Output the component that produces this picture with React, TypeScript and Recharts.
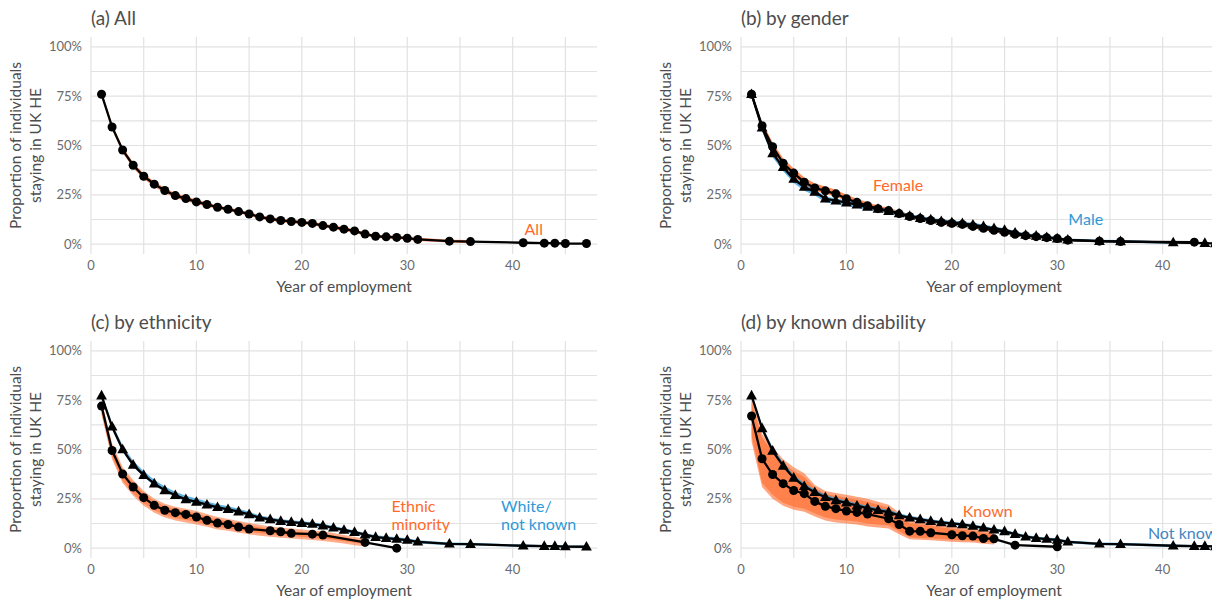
import React from "react";
import { ComposedChart, Line, Area, XAxis, YAxis, CartesianGrid, ReferenceDot } from "recharts";

const ORANGE = "#FF6A2B";
const BLUE = "#2E9AD8";
const BLUE_DARK = "#3F86C2";
const TEXT = "#4d4d4d";
const TICK = "#6b6b6b";

const xTicks = [0, 10, 20, 30, 40];
const xGrid = [0, 5, 10, 15, 20, 25, 30, 35, 40, 45];
const yTicks = [0, 25, 50, 75, 100];
const yGrid = [0, 12.5, 25, 37.5, 50, 62.5, 75, 87.5, 100];

const yrs1to31 = [1, 2, 3, 4, 5, 6, 7, 8, 9, 10, 11, 12, 13, 14, 15, 16, 17, 18, 19, 20, 21, 22, 23, 24, 25, 26, 27, 28, 29, 30, 31];

// (a) all
const allYears = [...yrs1to31, 34, 36, 41, 43, 44, 45, 47];
const allVals = [76, 59.4, 47.7, 40, 34.4, 30.4, 27.2, 24.6, 23.1, 21.4, 20.1, 18.7, 17.7, 16.5, 15.3, 13.8, 12.8, 12, 11.5, 11, 10.5, 9.4, 8.6, 7.6, 6.7, 5.1, 4, 3.7, 3.4, 3, 2.4, 1.5, 1.3, 0.7, 0.5, 0.5, 0.3, 0.3];
const allBandYears = [...yrs1to31, 34, 36];
const allLow = [74.8, 58, 46.3, 38.6, 33.1, 29.1, 26, 23.4, 21.9, 20.3, 19.1, 17.8, 16.8, 15.6, 14.4, 12.9, 11.9, 11.1, 10.6, 10.1, 9.6, 8.5, 7.7, 6.7, 5.8, 4.3, 3.2, 2.9, 2.6, 2.2, 1.6, 0.8, 0.5];
const allHigh = [77.2, 60.8, 49.1, 41.4, 35.7, 31.7, 28.4, 25.8, 24.3, 22.5, 21.1, 19.6, 18.6, 17.4, 16.2, 14.7, 13.7, 12.9, 12.4, 11.9, 11.4, 10.3, 9.5, 8.5, 7.6, 5.9, 4.8, 4.5, 4.2, 3.8, 3.2, 2.2, 2.1];

// (b) gender
const femYears = [...yrs1to31, 34, 36, 43];
const femVals = [76, 60, 49.4, 41, 36, 31.4, 28.5, 27, 25.5, 23, 21.2, 19.5, 18, 17, 15.5, 14, 13, 12, 11, 10.5, 10, 9, 8, 7, 6, 5, 4.3, 3.8, 3.3, 2.8, 2, 1.5, 1.3, 1];
const femBandYears = [...yrs1to31, 34, 36];
const femLow = [74.8, 58.6, 47.9, 39.6, 34.6, 30, 27.1, 25.6, 24.1, 21.7, 19.9, 18.3, 16.9, 15.9, 14.5, 13, 12, 11.1, 10.1, 9.6, 9.1, 8.1, 7.2, 6.2, 5.3, 4.3, 3.6, 3.1, 2.6, 2.1, 1.4, 0.9, 0.7];
const femHigh = [77.4, 61.8, 51.6, 43.4, 38.4, 33.8, 30.8, 29.2, 27.6, 25, 23, 21.2, 19.5, 18.4, 16.8, 15.2, 14.1, 13, 11.9, 11.4, 10.9, 9.9, 8.8, 7.8, 6.7, 5.7, 5, 4.5, 4, 3.5, 2.6, 2.1, 1.9];

const maleYears = [...yrs1to31, 34, 36, 41, 44, 45, 47];
const maleVals = [76, 59, 46, 39, 33, 29, 26.5, 23, 22, 21, 20, 18.8, 17.8, 16.7, 15.5, 14.3, 13.2, 12.4, 11.6, 11, 10.5, 9.8, 9, 8, 7.2, 5.8, 4.6, 4.2, 3.5, 2.8, 2.2, 1.5, 1.4, 0.8, 0.5, 0.4, 0.3];
const maleBandYears = [...yrs1to31, 34, 36, 41];
const maleLow = [74.6, 57.3, 44, 37, 31, 27, 24.6, 21.2, 20.3, 19.4, 18.5, 17.4, 16.6, 15.6, 14.4, 13.3, 12.2, 11.4, 10.6, 10, 9.5, 8.8, 8, 7, 6.3, 4.9, 3.8, 3.4, 2.7, 2, 1.5, 0.8, 0.7, 0.2];
const maleHigh = [77.2, 60.3, 47.3, 40.3, 34.3, 30.2, 27.7, 24.2, 23.1, 22.1, 21.1, 19.9, 18.8, 17.7, 16.5, 15.3, 14.2, 13.4, 12.6, 12, 11.5, 10.8, 10, 9, 8.1, 6.7, 5.4, 5, 4.3, 3.6, 2.9, 2.2, 2.1, 1.4];

// (c) ethnicity
const emYears = [1, 2, 3, 4, 5, 6, 7, 8, 9, 10, 11, 12, 13, 14, 15, 17, 18, 19, 21, 22, 26, 29];
const emVals = [72, 49.5, 37.6, 31, 25.6, 21.7, 19.2, 18, 17.1, 15.8, 14.1, 12.7, 12, 10.7, 9.7, 8.8, 8.3, 7.5, 7.1, 6.6, 2.9, 0];
const emBandYears = [1, 2, 3, 4, 5, 6, 7, 8, 9, 10, 11, 12, 13, 14, 15, 16, 17, 18, 19, 20, 21, 22, 23, 24, 25, 26];
const emOuterLow = [67.5, 45, 33, 26.5, 21.5, 18, 15.5, 14, 13, 12, 10.8, 9.5, 8.8, 7.8, 7, 6.3, 5.8, 5.3, 4.9, 4.5, 4.1, 3.6, 3, 2.3, 1.5, 0.8];
const emOuterHigh = [75, 53, 41, 34.5, 29, 25, 22.5, 21, 20, 18.8, 17.3, 15.8, 14.8, 13.8, 12.8, 11.8, 11, 10.4, 9.9, 9.4, 9, 8.5, 7.7, 6.7, 5.7, 4.7];
const emInnerLow = [68.7, 46.2, 34.2, 27.7, 22.7, 19.2, 16.7, 15.2, 14.2, 13.2, 12, 10.7, 10, 9, 8.2, 7.5, 7, 6.5, 6.1, 5.7, 5.3, 4.8, 4.2, 3.5, 2.7, 2];
const emInnerHigh = [73.8, 51.8, 39.8, 33.3, 27.8, 23.8, 21.3, 19.8, 18.8, 17.6, 16.1, 14.6, 13.6, 12.6, 11.6, 10.6, 9.8, 9.2, 8.7, 8.2, 7.8, 7.3, 6.5, 5.5, 4.5, 3.5];

const whYears = [...yrs1to31, 34, 36, 41, 43, 44, 45, 47];
const whVals = [77.3, 61.5, 50, 42.2, 37, 32.7, 29.3, 26.8, 24.7, 23.4, 22, 20.7, 19.7, 18.5, 17.1, 15.4, 14.6, 13.7, 13.2, 12.7, 12.2, 11.4, 10.3, 9.2, 8.1, 6.8, 5.6, 5.1, 4.6, 4.1, 3.2, 2.2, 2, 1.2, 1, 1, 0.8, 0.7];
const whLow = [76.3, 60.5, 49, 41.2, 36, 31.8, 28.4, 25.9, 23.8, 22.5, 21.1, 19.8, 18.8, 17.6, 16.2, 14.5, 13.7, 12.8, 12.3, 11.8, 11.3, 10.5, 9.4, 8.3, 7.2, 5.9, 4.7, 4.2, 3.7, 3.2, 2.4, 1.5, 1.3, 0.6, 0.4, 0.4, 0.2, 0.1];
const whHigh = [78.8, 63.3, 52, 44.3, 39, 34.7, 31.2, 28.6, 26.5, 25.1, 23.6, 22.3, 21.2, 20, 18.5, 16.5, 15.6, 14.6, 14.1, 13.6, 13.1, 12.3, 11.2, 10.1, 9, 7.7, 6.5, 6, 5.5, 5, 4, 2.9, 2.7, 1.8, 1.6, 1.6, 1.4, 1.3];

// (d) disability
const knYears = [1, 2, 3, 4, 5, 6, 7, 8, 9, 10, 11, 12, 14, 15, 16, 17, 18, 20, 21, 22, 23, 24, 26, 30];
const knVals = [67, 45.3, 37.3, 32.7, 29.2, 27.6, 23.7, 21.2, 20, 18.8, 18.1, 17.3, 14.9, 12, 8.6, 8.5, 7.8, 6.8, 6.3, 6.1, 4.9, 4.7, 1.5, 0.7];
const knBandYears = [1, 2, 3, 4, 5, 6, 7, 8, 9, 10, 11, 12, 13, 14, 15, 16, 17, 18, 19, 20, 21, 22, 23, 24];
const knOuterLow = [54, 31, 25, 21.5, 19.5, 18.5, 16, 14, 13, 12.5, 12, 11, 10.5, 10, 7, 4.5, 4.2, 4, 3.6, 3.2, 3, 2.8, 2.2, 1.8];
const knOuterHigh = [76, 58, 51, 45, 41, 38, 32, 29, 28, 27, 26, 25, 23.5, 22, 18, 14, 13.5, 13, 12, 11, 10.5, 10, 9, 8.5];
const knInnerLow = [57, 33, 27, 23, 21, 20, 17.5, 15.5, 14.5, 14, 13.5, 12.5, 12, 11.5, 8.5, 5.5, 5.2, 5, 4.6, 4.2, 4, 3.8, 3.2, 2.8];
const knInnerHigh = [74, 56, 49, 43, 39, 36, 30.5, 27.5, 26.5, 25.5, 24.5, 23.5, 22, 20.5, 16.5, 12.5, 12, 11.5, 10.5, 9.8, 9.3, 8.8, 7.8, 7.3];

const nkYears = [...yrs1to31, 34, 36, 41, 43, 44, 45, 47];
const nkVals = [77.3, 60.7, 49.3, 41.7, 35.6, 31.4, 28.3, 25.8, 24.2, 23, 21.5, 20.3, 19.2, 18.3, 16.6, 15.4, 14.6, 13.7, 13, 12.5, 12, 11.2, 10.3, 9.3, 8.5, 7.1, 5.8, 5.1, 4.6, 4.2, 3.2, 2.2, 2, 1.2, 1, 1, 0.8, 0.7];
const nkLow = [76.4, 59.8, 48.4, 40.8, 34.8, 30.6, 27.5, 25, 23.4, 22.2, 20.7, 19.5, 18.4, 17.5, 15.8, 14.6, 13.8, 12.9, 12.2, 11.7, 11.2, 10.4, 9.5, 8.5, 7.7, 6.3, 5, 4.3, 3.8, 3.4, 2.5, 1.5, 1.3, 0.6, 0.4, 0.4, 0.2, 0.1];
const nkHigh = [78.6, 62.2, 51, 43.4, 37.2, 32.9, 29.7, 27.1, 25.5, 24.2, 22.7, 21.5, 20.4, 19.4, 17.7, 16.4, 15.5, 14.6, 13.9, 13.3, 12.8, 12, 11.1, 10.1, 9.3, 7.9, 6.6, 5.9, 5.4, 5, 3.9, 2.9, 2.7, 1.8, 1.6, 1.6, 1.4, 1.3];

const pts = (xs: number[], ys: number[]) => xs.map((x, i) => ({ x, y: ys[i] }));
const band = (xs: number[], lo: number[], hi: number[]) => xs.map((x, i) => ({ x, r: [lo[i], hi[i]] }));

const Circle = (p: any) => (p.cx == null ? null : <circle key={`c${p.index}`} cx={p.cx} cy={p.cy} r={4.5} fill="#000" />);
const Triangle = (p: any) =>
  p.cx == null ? null : (
    <polygon key={`t${p.index}`} points={`${p.cx},${p.cy - 5.8} ${p.cx - 5.4},${p.cy + 3.8} ${p.cx + 5.4},${p.cy + 3.8}`} fill="#000" />
  );

function note(lines: string[], color: string, anchor: "start" | "middle") {
  return (p: any) => (
    <text x={p.cx} y={p.cy} fill={color} fontSize={16} textAnchor={anchor} fontFamily="Lato">
      {lines.map((l, i) => (
        <tspan key={i} x={p.cx} dy={i === 0 ? 5.6 - (lines.length - 1) * 9 : 18}>
          {l}
        </tspan>
      ))}
    </text>
  );
}

const YTitle = ({ viewBox }: any) => {
  const cy = viewBox.y + viewBox.height / 2;
  return (
    <g fill={TEXT} fontSize={15.5} fontFamily="Lato">
      <text x={15} y={cy} textAnchor="middle" dominantBaseline="central" transform={`rotate(-90 15 ${cy})`}>
        Proportion of individuals
      </text>
      <text x={35} y={cy} textAnchor="middle" dominantBaseline="central" transform={`rotate(-90 35 ${cy})`}>
        staying in UK HE
      </text>
    </g>
  );
};

const XTitle = ({ viewBox }: any) => (
  <text x={viewBox.x + viewBox.width / 2} y={viewBox.y + 32} textAnchor="middle" dominantBaseline="central" fill={TEXT} fontSize={15.5} fontFamily="Lato">
    Year of employment
  </text>
);

function Panel({ title, left, top, children }: { title: string; left: number; top: number; children: React.ReactNode }) {
  return (
    <div style={{ position: "absolute", left, top, width: 650, height: 300 }}>
      <ComposedChart width={650} height={300} margin={{ top: 37, right: 53, bottom: 0, left: 0 }}>
        <CartesianGrid stroke="#e2e2e2" strokeWidth={1.2} horizontalValues={yGrid} verticalValues={xGrid} />
        <XAxis type="number" dataKey="x" domain={[0, 48]} ticks={xTicks} allowDataOverflow height={46} axisLine={false} tickLine={false} tickSize={4} tickMargin={3} tick={{ fill: TICK, fontSize: 13, fontFamily: "Lato" }} label={XTitle} />
        <YAxis type="number" domain={[-5, 105]} ticks={yTicks} allowDataOverflow width={91} axisLine={false} tickLine={false} tickSize={6} tickMargin={3} tickFormatter={(v: number) => `${v}%`} tick={{ fill: TICK, fontSize: 13, fontFamily: "Lato" }} label={YTitle} />
        {children}
      </ComposedChart>
      <div style={{ position: "absolute", left: 91, top: 6, lineHeight: "24px", fontSize: 19, color: TEXT, fontFamily: "Lato", whiteSpace: "nowrap" }}>{title}</div>
    </div>
  );
}

const ribbon = (key: string, data: any[], color: string, opacity: number) => (
  <Area key={key} data={data} dataKey="r" type="linear" stroke="none" fill={color} fillOpacity={opacity} dot={false} activeDot={false} isAnimationActive={false} />
);
const curve = (key: string, data: any[], shape: any) => (
  <Line key={key} data={data} dataKey="y" type="linear" stroke="#000" strokeWidth={2.3} dot={shape} activeDot={false} isAnimationActive={false} />
);

export default function App() {
  return (
    <div style={{ position: "absolute", left: 0, top: 0, width: 1212, height: 601, overflow: "hidden", background: "#fff" }}>
      <Panel title="(a) All" left={0} top={0}>
        {ribbon("ab", band(allBandYears, allLow, allHigh), ORANGE, 0.8)}
        {curve("al", pts(allYears, allVals), Circle)}
        <ReferenceDot x={42} y={7.6} r={0} shape={note(["All"], ORANGE, "middle")} />
      </Panel>
      <Panel title="(b) by gender" left={650} top={0}>
        {ribbon("fb", band(femBandYears, femLow, femHigh), ORANGE, 0.8)}
        {ribbon("mb", band(maleBandYears, maleLow, maleHigh), BLUE, 0.75)}
        {curve("fl", pts(femYears, femVals), Circle)}
        {curve("ml", pts(maleYears, maleVals), Triangle)}
        <ReferenceDot x={14.9} y={30} r={0} shape={note(["Female"], ORANGE, "middle")} />
        <ReferenceDot x={32.7} y={12.7} r={0} shape={note(["Male"], BLUE, "middle")} />
      </Panel>
      <Panel title="(c) by ethnicity" left={0} top={304}>
        {ribbon("eo", band(emBandYears, emOuterLow, emOuterHigh), ORANGE, 0.55)}
        {ribbon("ei", band(emBandYears, emInnerLow, emInnerHigh), ORANGE, 0.55)}
        {ribbon("wb", band(whYears, whLow, whHigh), BLUE, 0.75)}
        {curve("el", pts(emYears, emVals), Circle)}
        {curve("wl", pts(whYears, whVals), Triangle)}
        <ReferenceDot x={28.5} y={16.8} r={0} shape={note(["Ethnic", "minority"], ORANGE, "start")} />
        <ReferenceDot x={38.9} y={16.8} r={0} shape={note(["White/", "not known"], BLUE, "start")} />
      </Panel>
      <Panel title="(d) by known disability" left={650} top={304}>
        {ribbon("ko", band(knBandYears, knOuterLow, knOuterHigh), ORANGE, 0.6)}
        {ribbon("ki", band(knBandYears, knInnerLow, knInnerHigh), ORANGE, 0.6)}
        {ribbon("nb", band(nkYears, nkLow, nkHigh), BLUE, 0.75)}
        {curve("kl", pts(knYears, knVals), Circle)}
        {curve("nl", pts(nkYears, nkVals), Triangle)}
        <ReferenceDot x={23.4} y={18.8} r={0} shape={note(["Known"], ORANGE, "middle")} />
        <ReferenceDot x={38.6} y={7.7} r={0} shape={note(["Not known"], BLUE_DARK, "start")} />
      </Panel>
    </div>
  );
}
